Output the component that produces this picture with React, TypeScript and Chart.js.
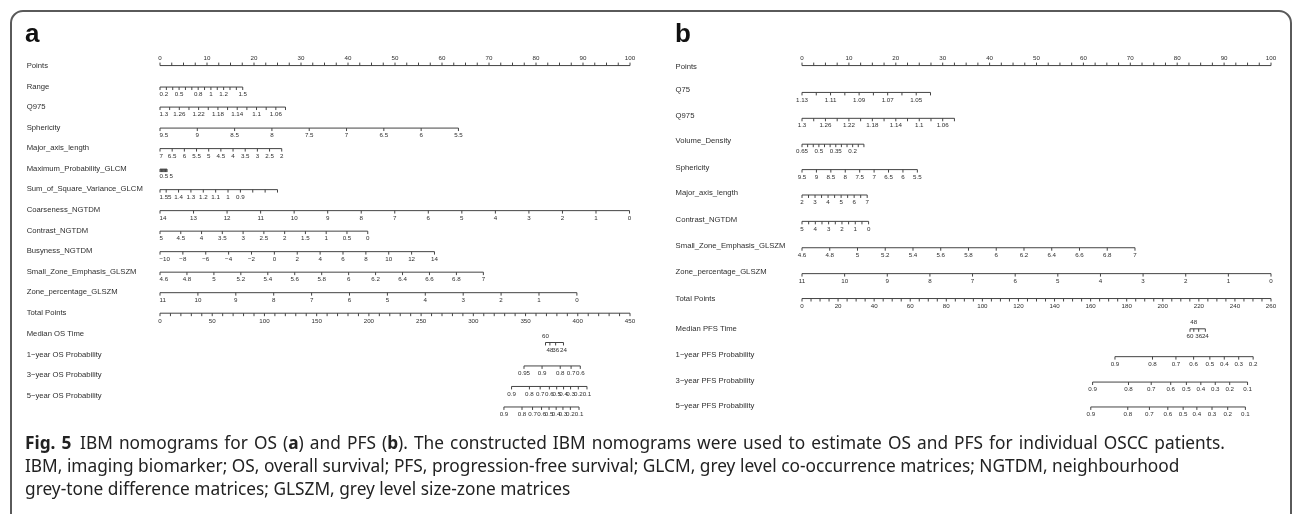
import React, { useEffect, useRef } from "react";
import { Chart, registerables } from "chart.js";

Chart.register(...registerables);

// ================= DATA: panel a (OS nomogram) =================
const pointsLabels = [0, 10, 20, 30, 40, 50, 60, 70, 80, 90, 100];

const rangeTicks = [0.2, 0.3, 0.4, 0.5, 0.6, 0.7, 0.8, 0.9, 1, 1.1, 1.2, 1.3, 1.4, 1.5];
const rangeLabels = [0.2, 0.5, 0.8, 1, 1.2, 1.5];
const rangeEnd = 17.6;

const q975aTicks = [1.3, 1.28, 1.26, 1.24, 1.22, 1.2, 1.18, 1.16, 1.14, 1.12, 1.1, 1.08, 1.06, 1.04];
const q975aLabels = [1.3, 1.26, 1.22, 1.18, 1.14, 1.1, 1.06];
const q975aEnd = 26.7;

const sphericityATicks = [9.5, 9, 8.5, 8, 7.5, 7, 6.5, 6, 5.5];
const sphericityAEnd = 63.5;

const majorATicks = [7, 6.5, 6, 5.5, 5, 4.5, 4, 3.5, 3, 2.5, 2];
const majorAEnd = 25.9;

const maxProbTicks = [0.5, 1, 1.5, 2, 2.5, 3, 3.5, 4, 4.5, 5];
const maxProbLabels = [0.5, 5];
const maxProbEnd = 1.5;

const sumSqTicks = [1.55, 1.5, 1.4, 1.3, 1.2, 1.1, 1, 0.9, 0.8, 0.7, 0.6];
const sumSqLabels = [1.55, 1.4, 1.3, 1.2, 1.1, 1, 0.9];
const sumSqEnd = 25.0;

const coarsenessTicks = [14, 13, 12, 11, 10, 9, 8, 7, 6, 5, 4, 3, 2, 1, 0];
const coarsenessEnd = 99.9;

const contrastATicks = [5, 4.5, 4, 3.5, 3, 2.5, 2, 1.5, 1, 0.5, 0];
const contrastAEnd = 44.2;

const busynessTicks = [-10, -8, -6, -4, -2, 0, 2, 4, 6, 8, 10, 12, 14];
const busynessEnd = 58.4;

const smallZoneATicks = [4.6, 4.8, 5, 5.2, 5.4, 5.6, 5.8, 6, 6.2, 6.4, 6.6, 6.8, 7];
const smallZoneAEnd = 68.8;

const zonePctATicks = [11, 10, 9, 8, 7, 6, 5, 4, 3, 2, 1, 0];
const zonePctAEnd = 88.7;

const osTotalMax = 450;
const osTotalLabels = [0, 50, 100, 150, 200, 250, 300, 350, 400, 450];

const medianOSTimes = [60, 48, 36, 24];
const medianOSTotals = [369.1, 373.3, 378.8, 386.3];
const medianOSAbove = [60];

const os1yProbs = [0.95, 0.9, 0.8, 0.7, 0.6];
const os1yTotals = [348.5, 365.8, 383.2, 393.6, 402.4];

const os3yProbs = [0.9, 0.8, 0.7, 0.6, 0.5, 0.4, 0.3, 0.2, 0.1];
const os3yTotals = [336.6, 353.7, 364.0, 372.8, 379.8, 386.4, 393.1, 400.5, 408.8];

const os5yProbs = [0.9, 0.8, 0.7, 0.6, 0.5, 0.4, 0.3, 0.2, 0.1];
const os5yTotals = [329.3, 346.6, 356.7, 365.3, 372.5, 379.3, 385.8, 392.9, 401.2];

// ================= DATA: panel b (PFS nomogram) =================
const q75Ticks = [1.13, 1.12, 1.11, 1.1, 1.09, 1.08, 1.07, 1.06, 1.05, 1.04];
const q75Labels = [1.13, 1.11, 1.09, 1.07, 1.05];
const q75End = 27.4;

const q975bTicks = [1.3, 1.28, 1.26, 1.24, 1.22, 1.2, 1.18, 1.16, 1.14, 1.12, 1.1, 1.08, 1.06, 1.04];
const q975bLabels = [1.3, 1.26, 1.22, 1.18, 1.14, 1.1, 1.06];
const q975bEnd = 32.5;

const volumeTicks = [0.65, 0.6, 0.55, 0.5, 0.45, 0.4, 0.35, 0.3, 0.25, 0.2, 0.15, 0.1];
const volumeLabels = [0.65, 0.5, 0.35, 0.2];
const volumeEnd = 13.2;

const sphericityBTicks = [9.5, 9, 8.5, 8, 7.5, 7, 6.5, 6, 5.5];
const sphericityBEnd = 24.6;

const majorBTicks = [2, 2.5, 3, 3.5, 4, 4.5, 5, 5.5, 6, 6.5, 7];
const majorBLabels = [2, 3, 4, 5, 6, 7];
const majorBEnd = 13.9;

const contrastBTicks = [5, 4.5, 4, 3.5, 3, 2.5, 2, 1.5, 1, 0.5, 0];
const contrastBLabels = [5, 4, 3, 2, 1, 0];
const contrastBEnd = 14.2;

const smallZoneBTicks = [4.6, 4.8, 5, 5.2, 5.4, 5.6, 5.8, 6, 6.2, 6.4, 6.6, 6.8, 7];
const smallZoneBEnd = 71.0;

const zonePctBTicks = [11, 10, 9, 8, 7, 6, 5, 4, 3, 2, 1, 0];
const zonePctBEnd = 100;

const pfsTotalMax = 260;
const pfsTotalLabels = [0, 20, 40, 60, 80, 100, 120, 140, 160, 180, 200, 220, 240, 260];

const medianPFSTimes = [60, 48, 36, 24];
const medianPFSTotals = [215.1, 217.2, 219.9, 223.6];
const medianPFSAbove = [48];

const pfs1yProbs = [0.9, 0.8, 0.7, 0.6, 0.5, 0.4, 0.3, 0.2];
const pfs1yTotals = [173.5, 194.3, 207.3, 217.1, 226.1, 234.1, 242.1, 250.1];

const pfs3yProbs = [0.9, 0.8, 0.7, 0.6, 0.5, 0.4, 0.3, 0.2, 0.1];
const pfs3yTotals = [161.1, 181.0, 193.6, 204.4, 213.1, 221.1, 229.1, 237.1, 247.0];

const pfs5yProbs = [0.9, 0.8, 0.7, 0.6, 0.5, 0.4, 0.3, 0.2, 0.1];
const pfs5yTotals = [160.1, 180.6, 192.6, 202.8, 211.3, 218.9, 227.3, 236.0, 245.8];

// ================= structure =================
type VarRow = { name: string; ticks: number[]; labels: number[]; end: number };
type FunRow = { name: string; values: number[]; totals: number[]; above: number[] };

const varRowsA: VarRow[] = [
  { name: "Range", ticks: rangeTicks, labels: rangeLabels, end: rangeEnd },
  { name: "Q975", ticks: q975aTicks, labels: q975aLabels, end: q975aEnd },
  { name: "Sphericity", ticks: sphericityATicks, labels: sphericityATicks, end: sphericityAEnd },
  { name: "Major_axis_length", ticks: majorATicks, labels: majorATicks, end: majorAEnd },
  { name: "Maximum_Probability_GLCM", ticks: maxProbTicks, labels: maxProbLabels, end: maxProbEnd },
  { name: "Sum_of_Square_Variance_GLCM", ticks: sumSqTicks, labels: sumSqLabels, end: sumSqEnd },
  { name: "Coarseness_NGTDM", ticks: coarsenessTicks, labels: coarsenessTicks, end: coarsenessEnd },
  { name: "Contrast_NGTDM", ticks: contrastATicks, labels: contrastATicks, end: contrastAEnd },
  { name: "Busyness_NGTDM", ticks: busynessTicks, labels: busynessTicks, end: busynessEnd },
  { name: "Small_Zone_Emphasis_GLSZM", ticks: smallZoneATicks, labels: smallZoneATicks, end: smallZoneAEnd },
  { name: "Zone_percentage_GLSZM", ticks: zonePctATicks, labels: zonePctATicks, end: zonePctAEnd },
];

const funRowsA: FunRow[] = [
  { name: "Median OS Time", values: medianOSTimes, totals: medianOSTotals, above: medianOSAbove },
  { name: "1\u2212year OS Probability", values: os1yProbs, totals: os1yTotals, above: [] },
  { name: "3\u2212year OS Probability", values: os3yProbs, totals: os3yTotals, above: [] },
  { name: "5\u2212year OS Probability", values: os5yProbs, totals: os5yTotals, above: [] },
];

const varRowsB: VarRow[] = [
  { name: "Q75", ticks: q75Ticks, labels: q75Labels, end: q75End },
  { name: "Q975", ticks: q975bTicks, labels: q975bLabels, end: q975bEnd },
  { name: "Volume_Density", ticks: volumeTicks, labels: volumeLabels, end: volumeEnd },
  { name: "Sphericity", ticks: sphericityBTicks, labels: sphericityBTicks, end: sphericityBEnd },
  { name: "Major_axis_length", ticks: majorBTicks, labels: majorBLabels, end: majorBEnd },
  { name: "Contrast_NGTDM", ticks: contrastBTicks, labels: contrastBLabels, end: contrastBEnd },
  { name: "Small_Zone_Emphasis_GLSZM", ticks: smallZoneBTicks, labels: smallZoneBTicks, end: smallZoneBEnd },
  { name: "Zone_percentage_GLSZM", ticks: zonePctBTicks, labels: zonePctBTicks, end: zonePctBEnd },
];

const funRowsB: FunRow[] = [
  { name: "Median PFS Time", values: medianPFSTimes, totals: medianPFSTotals, above: medianPFSAbove },
  { name: "1\u2212year PFS Probability", values: pfs1yProbs, totals: pfs1yTotals, above: [] },
  { name: "3\u2212year PFS Probability", values: pfs3yProbs, totals: pfs3yTotals, above: [] },
  { name: "5\u2212year PFS Probability", values: pfs5yProbs, totals: pfs5yTotals, above: [] },
];

// ================= layout (positions / styles only) =================
type Layout = {
  canvasLeft: number;
  canvasWidth: number;
  axisLeft: number;
  axisRight: number;
  nameX: number;
  pointsY: number;
  pointsNameY: number;
  varLineY: number[];
  varNameY: number[];
  totalY: number;
  funLineY: number[];
  funNameY: number[];
  firstLabelLeft: boolean;
  totalMinorStep: number;
};

const layoutA: Layout = {
  canvasLeft: 0,
  canvasWidth: 649,
  axisLeft: 160,
  axisRight: 630,
  nameX: 26.7,
  pointsY: 62,
  pointsNameY: 62.5,
  varLineY: [84, 104.5, 126, 147, 168, 189, 210.5, 231.5, 252.5, 273.5, 294.5],
  varNameY: [83.5, 104, 125.5, 146.5, 167.5, 188.5, 210, 231, 252, 273, 294],
  totalY: 315.5,
  funLineY: [345.5, 369.5, 390.5, 411.5],
  funNameY: [337, 358, 379, 400],
  firstLabelLeft: true,
  totalMinorStep: 10,
};

const layoutB: Layout = {
  canvasLeft: 649,
  canvasWidth: 649,
  axisLeft: 802,
  axisRight: 1271,
  nameX: 26.6,
  pointsY: 62,
  pointsNameY: 63,
  varLineY: [89.5, 116, 142.5, 168.5, 194.5, 221.5, 248.5, 275],
  varNameY: [86.5, 113, 139.5, 166.5, 192.5, 219.5, 246.5, 273],
  totalY: 300.5,
  funLineY: [331.5, 360, 386, 411.5],
  funNameY: [331.5, 358.5, 385, 410.5],
  firstLabelLeft: false,
  totalMinorStep: 5,
};

const PANEL_H = 432;
const LINE_COLOR = "#444444";
const TEXT_COLOR = "#2e2e2e";
const NAME_FONT = '7.7px "Liberation Sans", Arial, sans-serif';
const TICK_FONT = '6.2px "Liberation Sans", Arial, sans-serif';
const TICK_LEN = 3;
const LABEL_GAP = 7.6;

function axisGrid(max: number, step: number): number[] {
  const out: number[] = [];
  for (let v = 0; v <= max + 1e-9; v += step) out.push(Math.round(v * 1000) / 1000);
  return out;
}

function fmt(v: number): string {
  return v < 0 ? "\u2212" + String(-v) : String(v);
}

function varPos(row: VarRow, v: number): number {
  const v0 = row.ticks[0];
  const v1 = row.ticks[row.ticks.length - 1];
  return ((v - v0) / (v1 - v0)) * row.end;
}

function buildConfig(
  varRows: VarRow[],
  funRows: FunRow[],
  totalMax: number,
  totalLabels: number[],
  L: Layout
): any {
  const datasets: any[] = [];
  const addLine = (axis: string, x0: number, x1: number, y: number) =>
    datasets.push({
      xAxisID: axis,
      data: [
        { x: x0, y },
        { x: x1, y },
      ],
      showLine: true,
      borderColor: LINE_COLOR,
      borderWidth: 1,
      pointRadius: 0,
      clip: false,
    });
  const addTicks = (axis: string, xs: number[], y: number, dir: number) =>
    datasets.push({
      xAxisID: axis,
      data: xs.map((x) => ({ x, y: y + (dir * TICK_LEN) / 2 })),
      showLine: false,
      pointStyle: "line",
      pointRotation: 90,
      pointRadius: TICK_LEN / 2,
      pointBorderWidth: 1,
      pointBorderColor: LINE_COLOR,
      pointBackgroundColor: LINE_COLOR,
      clip: false,
    });

  // Points row
  addLine("x", 0, 100, L.pointsY);
  addTicks("x", axisGrid(100, 2.5), L.pointsY, -1);

  varRows.forEach((row, i) => {
    const y = L.varLineY[i];
    addLine("x", 0, row.end, y);
    addTicks("x", row.ticks.map((v) => varPos(row, v)), y, 1);
  });

  addLine("xt", 0, totalMax, L.totalY);
  addTicks("xt", axisGrid(totalMax, L.totalMinorStep), L.totalY, 1);

  funRows.forEach((row, i) => {
    const y = L.funLineY[i];
    addLine("xt", Math.min(...row.totals), Math.max(...row.totals), y);
    addTicks("xt", row.totals, y, 1);
  });

  const textPlugin = {
    id: "nomoText",
    afterDatasetsDraw(chart: any) {
      const ctx = chart.ctx as CanvasRenderingContext2D;
      const sx = chart.scales.x;
      const st = chart.scales.xt;
      const sy = chart.scales.y;
      ctx.save();
      ctx.fillStyle = TEXT_COLOR;
      ctx.textBaseline = "middle";
      const name = (t: string, y: number) => {
        ctx.font = NAME_FONT;
        ctx.textAlign = "left";
        ctx.fillText(t, L.nameX, sy.getPixelForValue(y));
      };
      const label = (t: string, px: number, y: number, align: CanvasTextAlign) => {
        ctx.font = TICK_FONT;
        ctx.textAlign = align;
        ctx.fillText(t, px, sy.getPixelForValue(y));
      };

      name("Points", L.pointsNameY);
      pointsLabels.forEach((v) => label(fmt(v), sx.getPixelForValue(v), L.pointsY - LABEL_GAP, "center"));

      varRows.forEach((row, i) => {
        name(row.name, L.varNameY[i]);
        ctx.font = TICK_FONT;
        let prevRight = -Infinity;
        row.labels.forEach((v, k) => {
          const t = fmt(v);
          const px = sx.getPixelForValue(varPos(row, v));
          const w = ctx.measureText(t).width;
          let left = k === 0 && L.firstLabelLeft ? px - 0.5 : px - w / 2;
          if (left < prevRight + 1.5) left = prevRight + 1.5;
          label(t, left, L.varLineY[i] + LABEL_GAP, "left");
          prevRight = left + w;
        });
      });

      name("Total Points", L.totalY);
      totalLabels.forEach((v) => label(fmt(v), st.getPixelForValue(v), L.totalY + LABEL_GAP + 0.8, "center"));

      funRows.forEach((row, i) => {
        name(row.name, L.funNameY[i]);
        row.values.forEach((v, k) => {
          const up = row.above.indexOf(v) >= 0;
          const y = up ? L.funLineY[i] - LABEL_GAP + 1 : L.funLineY[i] + LABEL_GAP;
          label(fmt(v), st.getPixelForValue(row.totals[k]), y, "center");
        });
      });
      ctx.restore();
    },
  };

  return {
    type: "scatter",
    data: { datasets },
    options: {
      animation: false,
      responsive: false,
      devicePixelRatio: 1,
      events: [],
      layout: {
        padding: {
          left: L.axisLeft - L.canvasLeft,
          right: L.canvasLeft + L.canvasWidth - L.axisRight,
          top: 0,
          bottom: 0,
        },
      },
      plugins: { legend: { display: false }, tooltip: { enabled: false } },
      scales: {
        x: { type: "linear", min: 0, max: 100, display: false },
        xt: { type: "linear", axis: "x", min: 0, max: totalMax, display: false },
        y: { type: "linear", min: 0, max: PANEL_H, reverse: true, display: false },
      },
    },
    plugins: [textPlugin],
  };
}

function Nomogram(props: {
  varRows: VarRow[];
  funRows: FunRow[];
  totalMax: number;
  totalLabels: number[];
  layout: Layout;
}) {
  const ref = useRef<HTMLCanvasElement | null>(null);
  useEffect(() => {
    if (!ref.current) return;
    const chart = new Chart(
      ref.current,
      buildConfig(props.varRows, props.funRows, props.totalMax, props.totalLabels, props.layout)
    );
    return () => chart.destroy();
  }, []);
  return (
    <canvas
      ref={ref}
      width={props.layout.canvasWidth}
      height={PANEL_H}
      style={{
        position: "absolute",
        left: props.layout.canvasLeft,
        top: 0,
        width: props.layout.canvasWidth,
        height: PANEL_H,
      }}
    />
  );
}

export default function App() {
  const letter: React.CSSProperties = {
    position: "absolute",
    top: 20,
    font: 'bold 26px "Liberation Sans", Arial, sans-serif',
    lineHeight: "26px",
    color: "#111",
  };
  return (
    <div
      style={{
        position: "absolute",
        left: 0,
        top: 0,
        width: 1298,
        height: 514,
        overflow: "hidden",
        background: "#ffffff",
      }}
    >
      <div
        style={{
          position: "absolute",
          left: 10,
          top: 10,
          width: 1282,
          height: 540,
          boxSizing: "border-box",
          border: "2px solid #5a5a5a",
          borderRadius: 13,
        }}
      />
      <Nomogram varRows={varRowsA} funRows={funRowsA} totalMax={osTotalMax} totalLabels={osTotalLabels} layout={layoutA} />
      <Nomogram varRows={varRowsB} funRows={funRowsB} totalMax={pfsTotalMax} totalLabels={pfsTotalLabels} layout={layoutB} />
      <div style={{ ...letter, left: 25 }}>a</div>
      <div style={{ ...letter, left: 675 }}>b</div>
      <div
        style={{
          position: "absolute",
          left: 25,
          top: 430.5,
          font: '17.3px "Noto Sans", "Open Sans", sans-serif',
          lineHeight: "23px",
          color: "#222",
          whiteSpace: "nowrap",
        }}
      >
        <div style={{ wordSpacing: "1.6px" }}>
          <b>Fig. 5</b>&ensp;IBM nomograms for OS (<b>a</b>) and PFS (<b>b</b>). The constructed IBM nomograms were used
          to estimate OS and PFS for individual OSCC patients.
        </div>
        <div>
          IBM, imaging biomarker; OS, overall survival; PFS, progression-free survival; GLCM, grey level co-occurrence
          matrices; NGTDM, neighbourhood
        </div>
        <div>grey-tone difference matrices; GLSZM, grey level size-zone matrices</div>
      </div>
    </div>
  );
}
